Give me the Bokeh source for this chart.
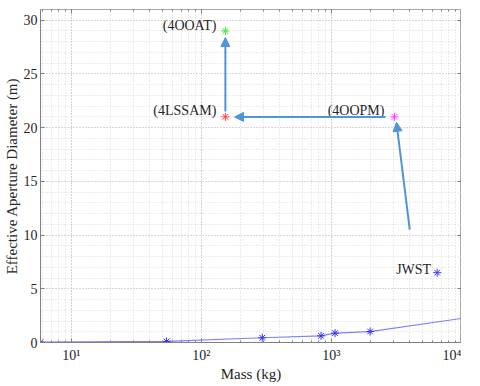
from bokeh.plotting import figure
from bokeh.models import (LogAxis, LinearAxis, Arrow, NormalHead, Label,
                          ColumnDataSource, LogTicker, SingleIntervalTicker, Range1d)
from bokeh.embed import file_html
from bokeh.resources import INLINE

# ---- data ----
trend_mass = [5.8, 54, 294, 832, 1066, 1983, 10000]
trend_diam = [0.03, 0.1, 0.44, 0.62, 0.87, 1.02, 2.24]
n_marked = 6

arch_names = ["JWST", "(4OOPM)", "(4LSSAM)", "(4OOAT)"]
arch_mass = [6500, 3050, 153, 153]
arch_diam = [6.5, 21.0, 21.0, 29.0]
arch_colors = ["#3c3cff", "#ff40ff", "#ff3c3c", "#3ce43c"]

arrow_x0 = [4000, 2600, 153]
arrow_y0 = [10.5, 21.0, 21.5]
arrow_x1 = [3162, 180, 153]
arrow_y1 = [20.5, 21.0, 28.4]

x_ticks = [10, 100, 1000, 10000]
x_tick_labels = ["10\u00b9", "10\u00b2", "10\u00b3", "10\u2074"]

FONT = "Liberation Serif"
AXC = "#808080"
TXT = "#262626"

p = figure(frame_width=421, frame_height=333, x_axis_type="log",
           x_range=Range1d(5.8, 1e4), y_range=Range1d(0, 31),
           output_backend="svg", toolbar_location=None,
           min_border_left=40, min_border_right=0, min_border_top=9,
           min_border_bottom=0)
p.background_fill_color = "white"
p.outline_line_color = "#a8a8a8"

# axes
p.xaxis.ticker = LogTicker(num_minor_ticks=10)
p.yaxis.ticker = SingleIntervalTicker(interval=5, num_minor_ticks=5)
p.xaxis.major_label_overrides = {t: l for t, l in zip(x_ticks, x_tick_labels)}
for ax in (p.xaxis, p.yaxis):
    ax.axis_line_color = AXC
    ax.major_tick_line_color = AXC
    ax.minor_tick_line_color = AXC
    ax.major_tick_in = 4
    ax.major_tick_out = 0
    ax.minor_tick_in = 2
    ax.minor_tick_out = 0
    ax.major_label_text_font = FONT
    ax.major_label_text_font_size = "14px"
    ax.major_label_text_color = TXT
    ax.axis_label_text_font = FONT
    ax.axis_label_text_font_size = "15px"
    ax.axis_label_text_font_style = "normal"
    ax.axis_label_text_color = TXT
p.yaxis.minor_tick_in = 0
p.yaxis.major_label_standoff = 3
p.yaxis.axis_label_standoff = 1
p.xaxis.major_label_standoff = 5
p.xaxis.axis_label_standoff = 0
p.xaxis.axis_label = "Mass (kg)"
p.yaxis.axis_label = "Effective Aperture Diameter (m)"

top = LogAxis(ticker=LogTicker(num_minor_ticks=10), major_label_text_font_size="1px",
              major_label_text_color=None,
              axis_line_color=None, major_tick_line_color=AXC, minor_tick_line_color=AXC,
              major_tick_in=4, major_tick_out=0, minor_tick_in=2, minor_tick_out=0,
              major_label_standoff=0)
right = LinearAxis(ticker=SingleIntervalTicker(interval=5), major_label_text_font_size="1px",
                   major_label_text_color=None,
                   axis_line_color=None, major_tick_line_color=AXC, minor_tick_line_color=None,
                   major_tick_in=4, major_tick_out=0, minor_tick_in=0, minor_tick_out=0,
                   major_label_standoff=0)
p.add_layout(top, "above")
p.add_layout(right, "right")

# grid
for g in (p.xgrid, p.ygrid):
    g.grid_line_color = "#c4c4c4"
    g.grid_line_dash = "1 2"
    g.minor_grid_line_color = "#d8d8d8"
    g.minor_grid_line_dash = "1 2"

# trend line
p.line(trend_mass, trend_diam, line_color="#8080ff", line_width=1.2)
p.scatter(trend_mass[:n_marked], trend_diam[:n_marked], marker="asterisk",
          size=8, line_color="#3030ff", line_width=1)

# architecture points
src = ColumnDataSource(dict(x=arch_mass, y=arch_diam, c=arch_colors))
p.scatter("x", "y", source=src, marker="asterisk", size=8, line_color="c", line_width=1)

offsets = [(-6, 3), (-10, 6), (-9, 6), (-9, 5)]
for name, mx, dy, (ox, oy) in zip(arch_names, arch_mass, arch_diam, offsets):
    p.add_layout(Label(x=mx, y=dy, text=name, x_offset=ox, y_offset=oy,
                       text_align="right", text_baseline="middle",
                       text_font=FONT, text_font_size="14px", text_color=TXT))

# arrows
ARC = "#4f95da"
for x0, y0, x1, y1 in zip(arrow_x0, arrow_y0, arrow_x1, arrow_y1):
    p.add_layout(Arrow(x_start=x0, y_start=y0, x_end=x1, y_end=y1,
                       line_color=ARC, line_width=2,
                       end=NormalHead(size=9, fill_color=ARC, line_color=ARC)))

open("out.html", "w").write(file_html(p, INLINE))
